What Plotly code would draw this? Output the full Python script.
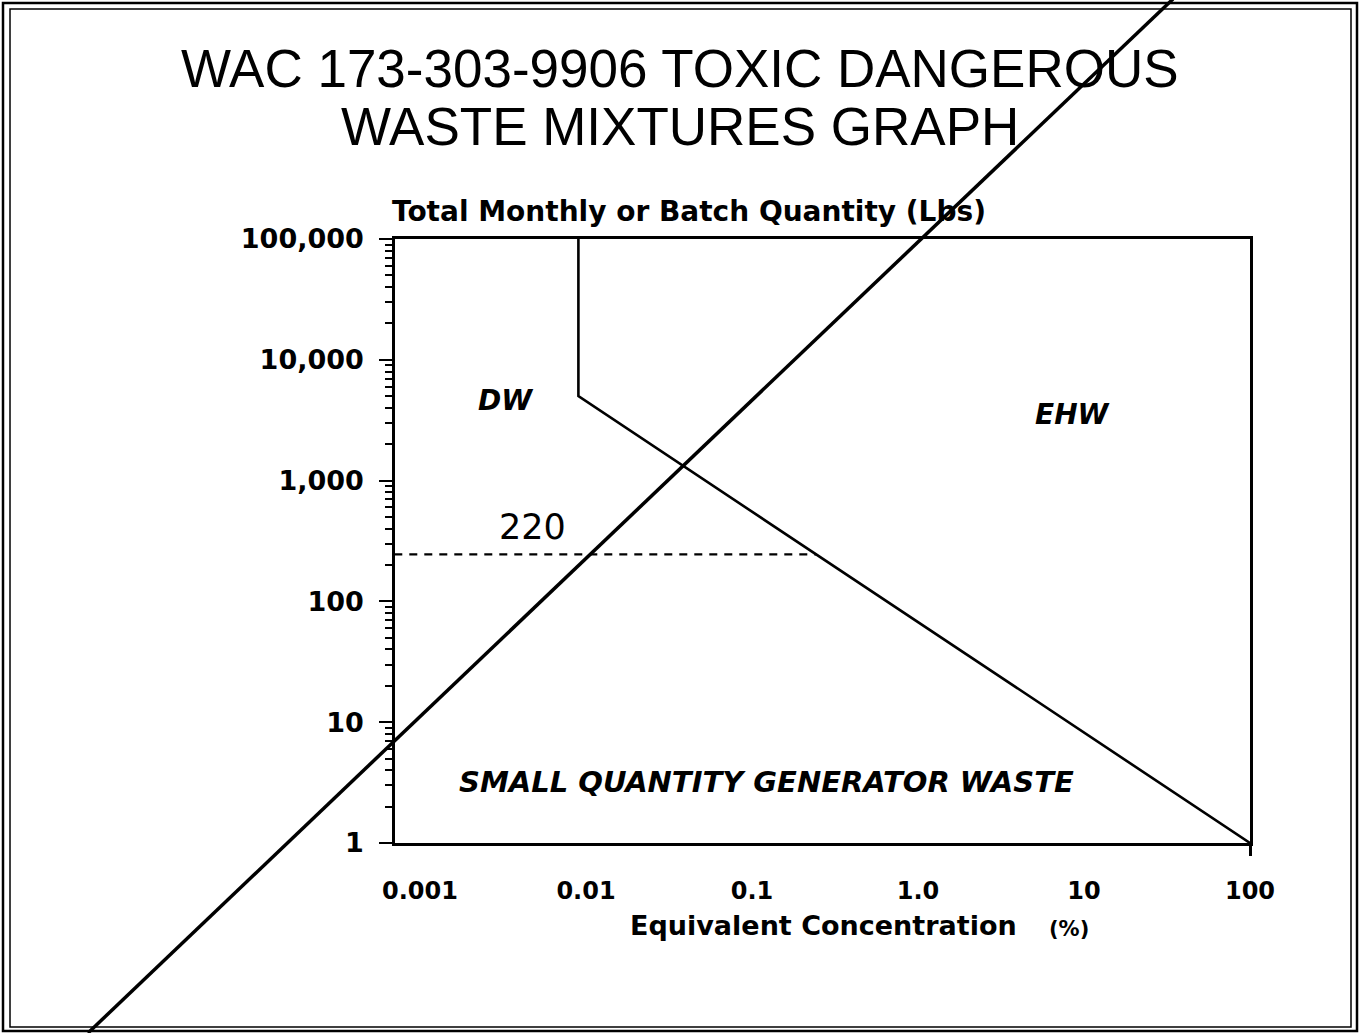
import math
import plotly.graph_objects as go

# ---------------- data ----------------
conc_boundary = [0.009, 0.009, 100]        # Equivalent concentration (%)
qty_boundary = [100000, 5000, 1]            # Total monthly or batch quantity (lbs)
sqg_conc = [0.0007, 0.244]                  # dashed 220 lb line
sqg_qty = [245, 245]
x_tick_vals = [0.001, 0.01, 0.1, 1, 10, 100]
x_tick_text = ["0.001", "0.01", "0.1", "1.0", "10", "100"]
y_tick_vals = [1, 10, 100, 1000, 10000, 100000]
y_tick_text = ["1", "10", "100", "1,000", "10,000", "100,000"]

# ---------------- layout geometry ----------------
W, H = 1361, 1033
L, R, T, B = 395, 111, 239, 190
PW, PH = W - L - R, H - T - B


def pp(xpix, ypix):
    """page pixel -> paper coords"""
    return (xpix - L) / PW, (H - B - ypix) / PH


x_range = [2 - PW / 166.0, 2]

BOLD = dict(family="DejaVu Sans", color="black", weight="bold")

fig = go.Figure()
fig.add_trace(go.Scatter(x=conc_boundary, y=qty_boundary, mode="lines",
                         line=dict(color="black", width=2.6), hoverinfo="skip"))
fig.add_trace(go.Scatter(x=sqg_conc, y=sqg_qty, mode="lines",
                         line=dict(color="black", width=2.4, dash="8px,7px"), hoverinfo="skip"))
# invisible helper trace for the single tick at 100 %
fig.add_trace(go.Scatter(x=[conc_boundary[-1]], y=[qty_boundary[-1]], mode="markers",
                         marker=dict(opacity=0), xaxis="x2", hoverinfo="skip"))

fig.update_layout(
    width=W, height=H, margin=dict(l=L, r=R, t=T, b=B),
    paper_bgcolor="white", plot_bgcolor="white", showlegend=False,
    xaxis=dict(type="log", range=x_range, tickvals=x_tick_vals, ticktext=x_tick_text,
               ticks="", showgrid=False, zeroline=False, showline=True, mirror=True,
               linecolor="black", linewidth=2.6, ticklabelstandoff=24,
               tickfont=dict(size=24, **BOLD)),
    xaxis2=dict(type="log", range=x_range, overlaying="x", anchor="y", side="bottom",
                tickvals=[conc_boundary[-1]], showticklabels=False, ticks="outside",
                ticklen=12, tickwidth=2.6, tickcolor="black", showgrid=False,
                showline=False, zeroline=False),
    yaxis=dict(type="log", range=[0, 5], tickvals=y_tick_vals, ticktext=y_tick_text,
               ticks="outside", ticklen=13, tickwidth=2.4, tickcolor="black",
               minor=dict(ticks="outside", ticklen=7, tickwidth=2, tickcolor="black",
                          dtick="D1", showgrid=False),
               showgrid=False, zeroline=False, showline=True, mirror=True,
               linecolor="black", linewidth=2.6, ticklabelstandoff=10,
               tickfont=dict(size=27, **BOLD)),
)

ann = []


def add_text(text, xpix, ypix, font, xanchor="center"):
    x, y = pp(xpix, ypix)
    ann.append(dict(text=text, x=x, y=y, xref="paper", yref="paper", showarrow=False,
                    xanchor=xanchor, yanchor="middle", font=font))


TITLE = dict(family="Liberation Sans", size=53, color="black")
add_text("WAC 173-303-9906 TOXIC DANGEROUS", 680, 68, TITLE)
add_text("WASTE MIXTURES GRAPH", 680, 127, TITLE)
add_text("Total Monthly or Batch Quantity (Lbs)", 390, 211, dict(size=28, **BOLD), "left")
add_text("Equivalent Concentration", 628, 925, dict(size=27, **BOLD), "left")
add_text("(%)", 1047, 929, dict(size=21, **BOLD), "left")
ITAL = dict(family="DejaVu Sans", color="black", weight="bold", style="italic")
add_text("DW", 505, 400, dict(size=28, **ITAL))
add_text("EHW", 1072, 414, dict(size=28, **ITAL))
add_text("SMALL QUANTITY GENERATOR WASTE", 766, 782, dict(size=29, **ITAL))
add_text("220", 532, 527, dict(family="DejaVu Sans", size=35, color="black"))
fig.update_layout(annotations=ann)

shapes = []
# page frame (double border)
for (x0p, y0p, x1p, y1p, w) in [(3, 3, 1357, 1031, 2.5), (10, 9, 1351, 1027, 1.5)]:
    ax0, ay0 = pp(x0p, y1p)
    ax1, ay1 = pp(x1p, y0p)
    shapes.append(dict(type="rect", xref="paper", yref="paper", x0=ax0, y0=ay0, x1=ax1, y1=ay1,
                       line=dict(color="black", width=w), fillcolor="rgba(0,0,0,0)", layer="above"))
# long diagonal stroke crossing the page
sx0, sy0 = pp(88, 1033)
sx1, sy1 = pp(1173, -1)
shapes.append(dict(type="line", xref="paper", yref="paper", x0=sx0, y0=sy0, x1=sx1, y1=sy1,
                   line=dict(color="black", width=3.5), layer="above"))
fig.update_layout(shapes=shapes)

fig.write_html("out.html", config={"displayModeBar": False},
               post_script="document.body.style.margin='0';")
